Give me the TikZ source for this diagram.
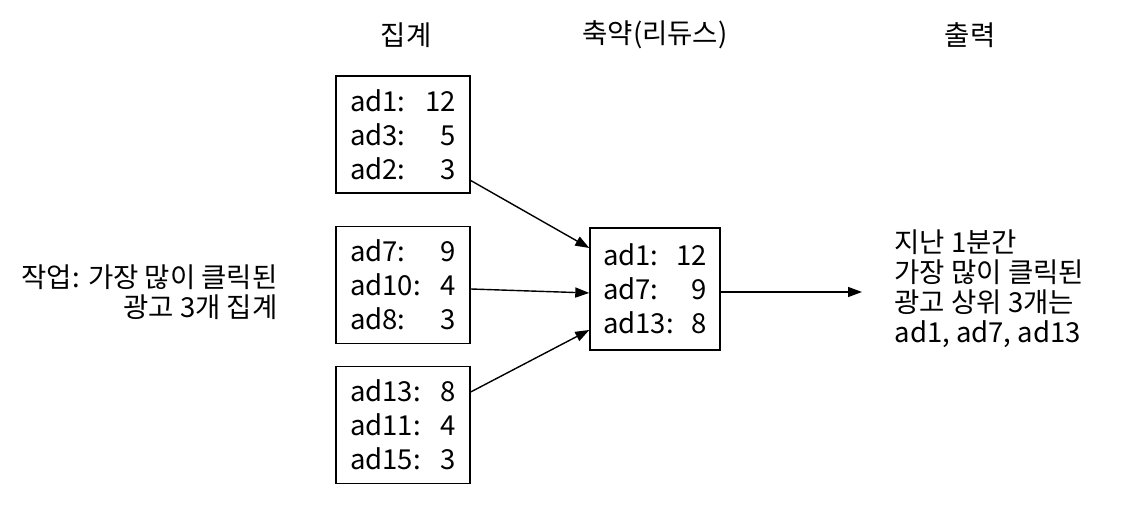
\documentclass[tikz,border=0pt]{standalone}
\usepackage{fontspec}
\setmainfont{Noto Sans CJK KR}
\usetikzlibrary{arrows.meta}
\begin{document}
\begin{tikzpicture}[x=1pt,y=1pt,
  box/.style={draw,line width=1.4pt,minimum width=134pt,minimum height=117pt,inner sep=0pt},
  cbox/.style={draw,line width=1.4pt,minimum width=130pt,minimum height=122pt,inner sep=0pt},
  lbl/.style={font=\fontsize{27.5}{30}\selectfont},
  conn/.style={line width=1.4pt,-{Triangle[length=14pt,width=10pt]}}]
\useasboundingbox (0,0) rectangle (1136,508);
\newcommand{\rowx}[3][106pt]{\makebox[#1]{#2\hfill #3}}
\node[lbl] (h1) at (406,473) {집계};
\node[lbl] (h2) at (655,473) {축약(리듀스)};
\node[lbl] (h3) at (970,473) {출력};
\node[box] (b1) at (403,373.5) {\begin{minipage}{106pt}\fontsize{27.5}{34}\selectfont\rowx{ad1:}{12}\\\rowx{ad3:}{5}\\\rowx{ad2:}{3}\end{minipage}};
\node[box] (b2) at (403,223) {\begin{minipage}{106pt}\fontsize{27.5}{34}\selectfont\rowx{ad7:}{9}\\\rowx{ad10:}{4}\\\rowx{ad8:}{3}\end{minipage}};
\node[box] (b3) at (403,83) {\begin{minipage}{106pt}\fontsize{27.5}{34}\selectfont\rowx{ad13:}{8}\\\rowx{ad11:}{4}\\\rowx{ad15:}{3}\end{minipage}};
\node[cbox] (c) at (655,219) {\begin{minipage}{104pt}\fontsize{27.5}{34}\selectfont\rowx[104pt]{ad1:}{12}\\\rowx[104pt]{ad7:}{9}\\\rowx[104pt]{ad13:}{8}\end{minipage}};
\node[lbl,align=right,anchor=east] (task) at (281,216) {작업: 가장 많이 클릭된\\광고 3개 집계};
\node[lbl,align=left,anchor=west] (out) at (891,219) {지난 1분간\\가장 많이 클릭된\\광고 상위 3개는\\ad1, ad7, ad13};
\coordinate (o) at (862,216);
\draw[conn] ([yshift=-46pt]b1.east) -- ([yshift=41pt]c.west);
\draw[conn] ([yshift=-4pt]b2.east) -- ([yshift=-4pt]c.west);
\draw[conn] ([yshift=33pt]b3.east) -- ([yshift=-41pt]c.west);
\draw[conn] ([yshift=-3pt]c.east) -- (o);
\end{tikzpicture}
\end{document}
